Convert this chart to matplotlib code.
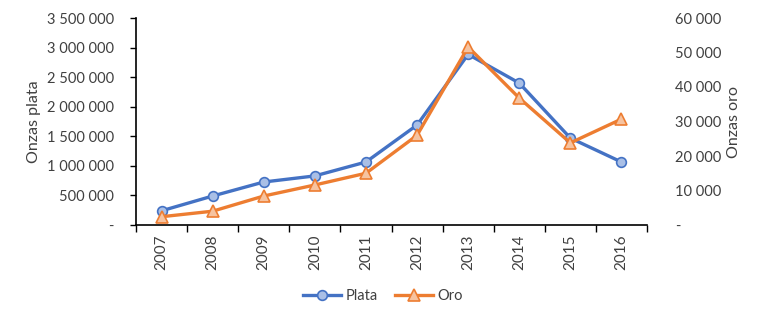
import matplotlib
matplotlib.use("Agg")
import matplotlib.pyplot as plt
from matplotlib.ticker import FuncFormatter, FixedLocator
from matplotlib.lines import Line2D

years = ["2007", "2008", "2009", "2010", "2011", "2012", "2013", "2014", "2015", "2016"]
plata = [240000, 490000, 727000, 830000, 1065000, 1690000, 2885000, 2400000, 1470000, 1065000]
oro = [2400, 4000, 8400, 11600, 15000, 26000, 51600, 36800, 23800, 30700]

plt.rcParams['font.family'] = ['Lato', 'DejaVu Sans']
TXT = '#404040'
BLUE = '#4472C4'
BLUE_F = '#A9BFE6'
ORNG = '#ED7D31'
ORNG_F = '#F6C3A0'

fig = plt.figure(figsize=(7.61, 3.2), dpi=100)
ax = fig.add_axes([136/761, 1-225/320, (647-136)/761, (225-18)/320])
ax2 = ax.twinx()

x = list(range(len(years)))
ax.plot(x, plata, color=BLUE, lw=2.4, marker='o', ms=7, mfc=BLUE_F, mec=BLUE, mew=1.2, zorder=3)
ax2.plot(x, oro, color=ORNG, lw=2.4, marker='^', ms=8, mfc=ORNG_F, mec=ORNG, mew=1.2, zorder=3)

ax.set_xlim(-0.5, len(years) - 0.5)
ax.set_ylim(0, 3500000)
ax2.set_ylim(0, 60000)

def fmt(v, p):
    if abs(v) < 1e-9:
        return '-'
    return f"{int(round(v)):,}".replace(',', ' ')

ax.yaxis.set_major_locator(FixedLocator([i * 500000 for i in range(8)]))
ax.yaxis.set_major_formatter(FuncFormatter(fmt))
ax2.yaxis.set_major_locator(FixedLocator([i * 10000 for i in range(7)]))
ax2.yaxis.set_major_formatter(FuncFormatter(fmt))

ax.set_xticks(x)
ax.set_xticklabels(years, rotation=90)
ax.set_xticks([i - 0.5 for i in range(len(years) + 1)], minor=True)
ax.tick_params(axis='x', which='major', length=0, pad=7, labelsize=11, labelcolor=TXT)
ax.tick_params(axis='x', which='minor', length=5, width=1, color='black', direction='out')
ax.tick_params(axis='y', length=4, width=1, color='black', direction='out', labelsize=10.5, labelcolor=TXT, pad=12)
ax2.tick_params(axis='y', length=0, labelsize=10.5, labelcolor=TXT, pad=20)

for s in ['top', 'right']:
    ax.spines[s].set_visible(False)
for s in ['top', 'right', 'left', 'bottom']:
    ax2.spines[s].set_visible(False)
ax.spines['left'].set_color('black')
ax.spines['bottom'].set_color('black')
ax.spines['left'].set_linewidth(1.2)
ax.spines['bottom'].set_linewidth(1.2)

ax.set_ylabel('Onzas plata', fontsize=11.5, color=TXT, labelpad=4)
ax2.set_ylabel('Onzas oro', fontsize=11.5, color=TXT, labelpad=4)

handles = [
    Line2D([], [], color=BLUE, lw=2.4, marker='o', ms=7, mfc=BLUE_F, mec=BLUE, mew=1.2),
    Line2D([], [], color=ORNG, lw=2.4, marker='^', ms=8, mfc=ORNG_F, mec=ORNG, mew=1.2),
]
fig.legend(handles, ['Plata', 'Oro'], loc='center', bbox_to_anchor=(383/761, 1-296/320),
           ncol=2, frameon=False, fontsize=10.5, handlelength=2.6, columnspacing=1.2,
           handletextpad=0.3, labelcolor=TXT)

fig.savefig('out.png', dpi=100)
